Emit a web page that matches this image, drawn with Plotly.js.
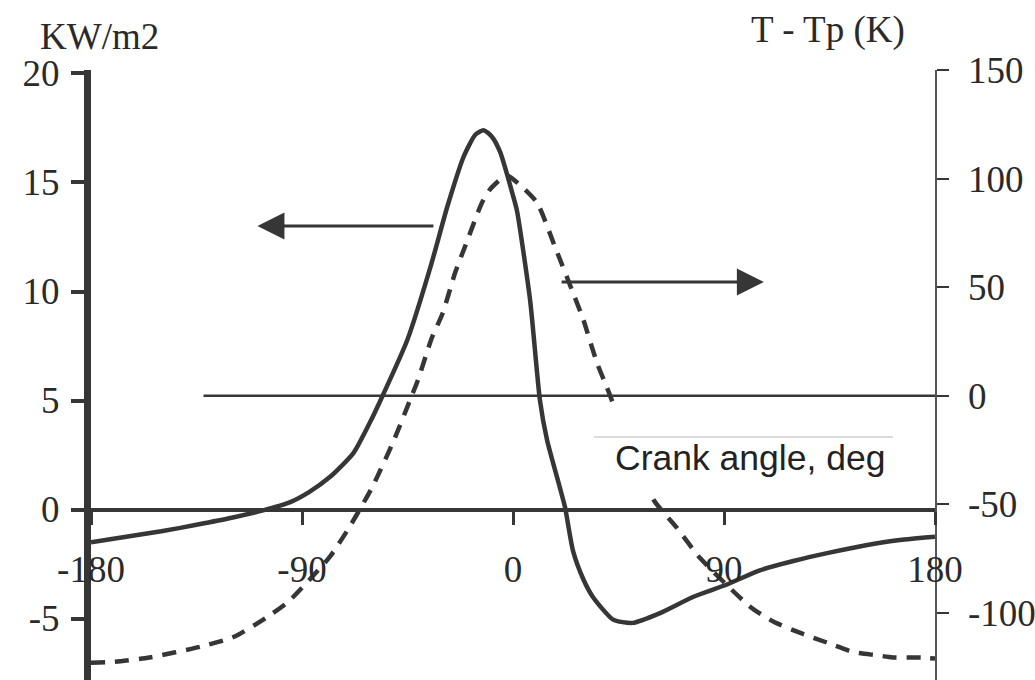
<!DOCTYPE html>
<html>
<head>
<meta charset="utf-8">
<script src="https://cdn.plot.ly/plotly-3.0.1.min.js"></script>
<style>
  body { margin: 0; background: #fff; }
  #chart { width: 1035px; height: 680px; }
</style>
</head>
<body>
<div id="chart"></div>
<script>
// heat flux (left axis, KW/m2) vs crank angle
var fluxAngle = [-180, -165, -150, -135, -120, -107, -95, -87, -78, -68, -61, -57, -45, -35, -28, -21, -16, -12.5, -9, -5.5, 0, 1.7, 7.3, 11.5, 14.5, 20, 22.2, 25.6, 30, 34, 42.7, 51, 62.7, 77, 91, 105, 120, 134, 150, 165, 180];
var heatFlux = [-1.5, -1.25, -1.0, -0.7, -0.38, -0.05, 0.34, 0.8, 1.5, 2.6, 4.0, 4.9, 7.8, 11.2, 13.9, 16.2, 17.2, 17.4, 17.1, 16.4, 14.4, 13.7, 9.6, 5.0, 3.2, 1.0, 0.1, -1.9, -3.2, -4.0, -5.05, -5.2, -4.75, -4.0, -3.45, -2.8, -2.35, -2.0, -1.65, -1.4, -1.25];

// T - Tp (right axis, K) vs crank angle
var tempAngle = [-180, -170, -155, -133, -119, -105, -96, -87, -78, -69.5, -60, -51, -43, -40.5, -34.6, -30, -24.7, -20.5, -13.2, -9.8, -5, -2.6, 2, 10.2, 17.9, 25.6, 30, 35.8, 40, 50, 60, 70, 80, 101, 111, 122, 134, 145, 155, 162, 174, 180];
var tempDiff = [-123, -122.5, -120.5, -115.5, -111, -102, -95, -85, -74, -60, -42, -21, 0.5, 7.4, 26.7, 38, 56.6, 68.6, 89, 95, 100, 101.5, 98, 89, 68.6, 47.4, 35, 15.2, 4, -24, -48, -61, -75, -97, -104, -109, -113.7, -118, -119.5, -120.5, -120.6, -121];

var xTicks = [-180, -90, 0, 90, 180];
var leftTicks = [-5, 0, 5, 10, 15, 20];
var rightTicks = [-100, -50, 0, 50, 100, 150];

var leftRange = [-7.82, 20.16];
var rightRange = [-130.9, 150];
var ink = '#363636';
var serif = 'Liberation Serif, Times New Roman, serif';

var traces = [
  {
    x: fluxAngle, y: heatFlux, type: 'scatter', mode: 'lines',
    line: {color: ink, width: 4.5, shape: 'spline', smoothing: 0.6},
    yaxis: 'y', hoverinfo: 'skip'
  },
  {
    x: tempAngle, y: tempDiff, type: 'scatter', mode: 'lines',
    line: {color: ink, width: 4.5, dash: '14px,10px', shape: 'spline', smoothing: 0.6},
    yaxis: 'y2', hoverinfo: 'skip'
  }
];

var layout = {
  width: 1035, height: 680,
  margin: {l: 91, r: 100, t: 70, b: 0},
  paper_bgcolor: '#fff', plot_bgcolor: '#fff',
  showlegend: false,
  font: {family: serif, size: 37, color: '#2a2a2a'},
  xaxis: {
    range: [-180, 180],
    anchor: 'free',
    position: (0 - leftRange[0]) / (leftRange[1] - leftRange[0]),
    tickvals: xTicks, ticktext: xTicks.map(String),
    ticks: 'outside', ticklen: 13, tickwidth: 3, tickcolor: ink,
    ticklabelstandoff: 13,
    showline: true, linecolor: ink, linewidth: 4.5,
    showgrid: false, zeroline: false, fixedrange: true
  },
  yaxis: {
    range: leftRange,
    tickvals: leftTicks, ticktext: leftTicks.map(String),
    ticks: 'outside', ticklen: 13, tickwidth: 4, tickcolor: ink,
    ticklabelstandoff: 4,
    showline: true, linecolor: ink, linewidth: 7,
    showgrid: false, zeroline: false, fixedrange: true
  },
  yaxis2: {
    range: rightRange,
    overlaying: 'y', side: 'right',
    tickvals: rightTicks, ticktext: rightTicks.map(String),
    ticks: 'outside', ticklen: 12, tickwidth: 2, tickcolor: ink,
    ticklabelstandoff: 12,
    showline: true, linecolor: '#555', linewidth: 1.5,
    showgrid: false, zeroline: false, fixedrange: true
  },
  shapes: [
    // T - Tp = 0 reference line
    {type: 'line', xref: 'x', yref: 'y2', x0: -132, x1: 180, y0: 0, y1: 0,
     line: {color: ink, width: 2.5}},
    // white box behind the axis label
    {type: 'rect', xref: 'x', yref: 'y', x0: 28, x1: 170, y0: 0.6, y1: 4.85,
     fillcolor: '#fff', line: {width: 0}, layer: 'above'},
    {type: 'line', xref: 'x', yref: 'y', x0: 34.5, x1: 162, y0: 3.33, y1: 3.33,
     line: {color: '#d0d0d0', width: 1.5}, layer: 'above'}
  ],
  annotations: [
    {text: 'KW/m2', xref: 'paper', yref: 'paper', x: 0.0095, y: 1.0557,
     xanchor: 'center', yanchor: 'middle',
     showarrow: false, font: {family: serif, size: 37, color: '#2a2a2a'}},
    {text: 'T - Tp (K)', xref: 'paper', yref: 'paper', x: 0.873, y: 1.0656,
     xanchor: 'center', yanchor: 'middle',
     showarrow: false, font: {family: serif, size: 37, color: '#2a2a2a'}},
    {text: 'Crank angle, deg', xref: 'x', yref: 'y', x: 101, y: 2.35,
     showarrow: false, font: {family: 'Liberation Sans, Arial, sans-serif', size: 35.5, color: '#222'}},
    // arrows pointing to the axis each curve belongs to
    {text: '', x: -109, y: 13.0, ax: -33.3, ay: 13.0, xref: 'x', yref: 'y', axref: 'x', ayref: 'y',
     showarrow: true, arrowhead: 2, arrowsize: 1.8, arrowwidth: 3, arrowcolor: ink, standoff: 0},
    {text: '', x: 107, y: 10.44, ax: 20.1, ay: 10.44, xref: 'x', yref: 'y', axref: 'x', ayref: 'y',
     showarrow: true, arrowhead: 2, arrowsize: 1.8, arrowwidth: 3, arrowcolor: ink, standoff: 0}
  ]
};

Plotly.newPlot('chart', traces, layout, {staticPlot: true});
</script>
</body>
</html>
